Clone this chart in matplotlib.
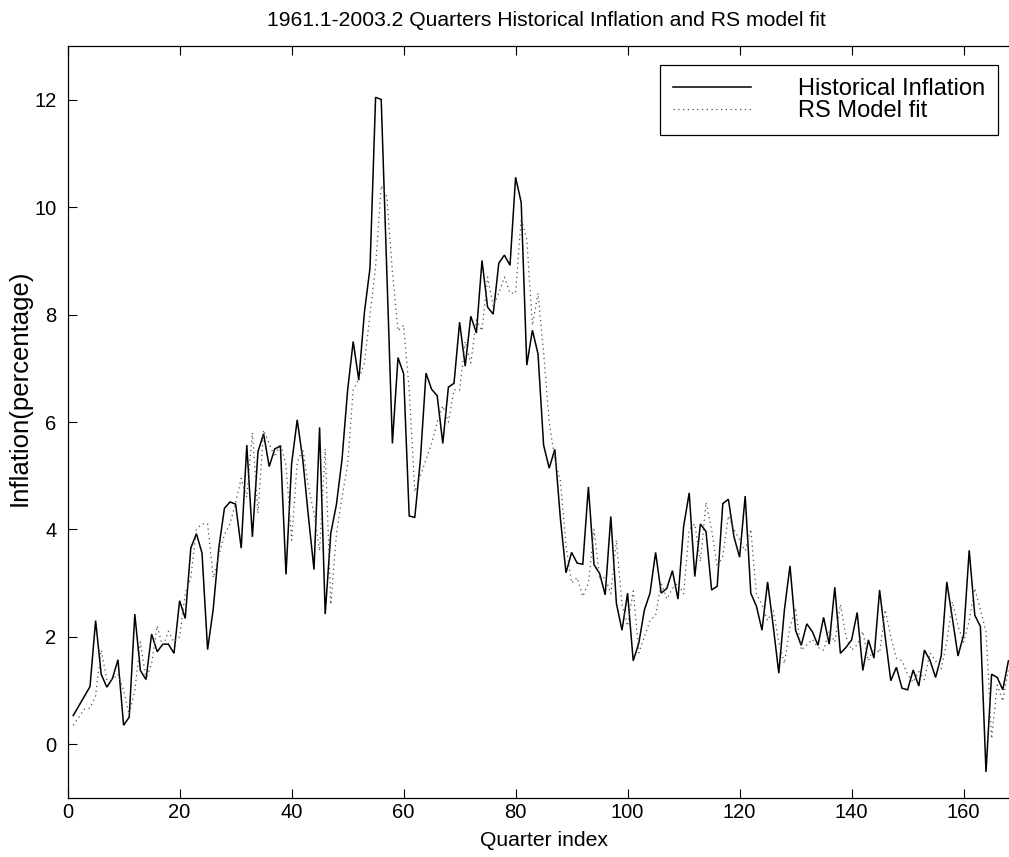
import numpy as np
import matplotlib
matplotlib.use("Agg")
import matplotlib.pyplot as plt
from matplotlib import font_manager

# ---------------- data ----------------
quarters = list(range(1, 169))

historical = [
    0.53, 0.71, 0.89, 1.07, 2.30, 1.30, 1.06, 1.22, 1.57, 0.35,
    0.50, 2.42, 1.37, 1.20, 2.05, 1.72, 1.86, 1.86, 1.69, 2.67,
    2.34, 3.65, 3.92, 3.56, 1.76, 2.51, 3.65, 4.39, 4.51, 4.47,
    3.65, 5.57, 3.86, 5.45, 5.78, 5.17, 5.50, 5.55, 3.16, 5.22,
    6.04, 5.30, 4.24, 3.25, 5.90, 2.42, 3.93, 4.46, 5.30, 6.59,
    7.50, 6.78, 8.04, 8.87, 12.05, 12.01, 8.80, 5.60, 7.20, 6.90,
    4.25, 4.22, 5.30, 6.91, 6.61, 6.49, 5.60, 6.65, 6.72, 7.86,
    7.04, 7.97, 7.66, 9.01, 8.14, 8.01, 8.96, 9.11, 8.92, 10.56,
    10.09, 7.06, 7.71, 7.27, 5.57, 5.14, 5.49, 4.20, 3.19, 3.57,
    3.37, 3.35, 4.79, 3.34, 3.18, 2.78, 4.24, 2.62, 2.12, 2.81,
    1.55, 1.88, 2.50, 2.81, 3.57, 2.81, 2.90, 3.23, 2.70, 4.05,
    4.68, 3.12, 4.10, 3.96, 2.87, 2.94, 4.48, 4.56, 3.86, 3.48,
    4.62, 2.81, 2.57, 2.12, 3.02, 2.20, 1.32, 2.50, 3.32, 2.12,
    1.84, 2.24, 2.09, 1.84, 2.36, 1.86, 2.92, 1.69, 1.80, 1.94,
    2.45, 1.37, 1.94, 1.60, 2.87, 2.00, 1.18, 1.43, 1.04, 1.01,
    1.38, 1.08, 1.75, 1.56, 1.24, 1.64, 3.02, 2.34, 1.64, 2.03,
    3.61, 2.40, 2.19, -0.52, 1.30, 1.24, 1.01, 1.55,
]

rs_fit = [
    0.35, 0.50, 0.65, 0.67, 0.90, 1.75, 1.20, 1.20, 1.30, 1.00,
    0.55, 1.00, 1.90, 1.20, 1.50, 2.20, 1.80, 2.10, 1.90, 2.00,
    2.80, 3.10, 4.00, 4.10, 4.10, 3.10, 3.50, 3.90, 4.10, 4.50,
    4.95, 4.60, 5.80, 4.30, 5.85, 5.60, 5.35, 5.60, 5.20, 3.80,
    5.25, 5.50, 4.80, 4.30, 3.60, 5.50, 2.60, 3.90, 4.60, 5.20,
    6.60, 6.80, 7.10, 8.00, 8.90, 10.40, 10.20, 8.80, 7.70, 7.80,
    6.60, 4.70, 5.00, 5.30, 5.60, 6.00, 6.30, 6.00, 6.60, 6.60,
    7.50, 7.10, 7.90, 7.70, 8.70, 8.15, 8.40, 8.70, 8.40, 8.40,
    9.80, 9.40, 7.80, 8.40, 7.30, 6.00, 5.30, 4.90, 3.70, 3.00,
    3.10, 2.75, 3.00, 4.00, 3.10, 3.10, 2.80, 3.80, 2.60, 2.20,
    2.85, 1.70, 2.00, 2.30, 2.40, 3.00, 2.70, 2.90, 3.00, 2.80,
    4.00, 4.10, 3.40, 4.50, 4.00, 3.30, 3.50, 4.25, 4.00, 3.80,
    3.60, 4.00, 2.80, 2.60, 2.30, 2.50, 1.90, 1.50, 2.20, 2.50,
    1.75, 1.85, 1.95, 1.80, 1.75, 2.10, 1.90, 2.60, 2.00, 1.75,
    1.85, 2.10, 1.55, 1.80, 1.70, 2.50, 2.00, 1.60, 1.55, 1.30,
    1.15, 1.35, 1.20, 1.70, 1.55, 1.40, 1.90, 2.65, 2.20, 1.90,
    2.30, 2.90, 2.50, 2.10, 0.10, 1.10, 0.80, 1.40,
]

x_ticks = [0, 20, 40, 60, 80, 100, 120, 140, 160]
y_ticks = [0, 2, 4, 6, 8, 10, 12]

title_text = "1961.1-2003.2 Quarters Historical Inflation and RS model fit"
x_label = "Quarter index"
y_label = "Inflation(percentage)"
series_labels = ["Historical Inflation", "RS Model fit"]

# ---------------- fonts ----------------
installed = {f.name for f in font_manager.fontManager.ttflist}
REG = ['Liberation Sans', 'DejaVu Sans']
if 'Liberation Sans Narrow' in installed:
    NAR = ['Liberation Sans Narrow', 'Liberation Sans', 'DejaVu Sans']
    k = 1.0 / 0.82
else:
    NAR = REG
    k = 1.0

plt.rcParams['font.family'] = REG

# ---------------- figure ----------------
W, H = 1009, 857
fig = plt.figure(figsize=(W / 100, H / 100), dpi=100)
fig.patch.set_facecolor('white')

# axes in pixel geometry (right edge beyond the image, as in the cropped reference)
left_px, right_px, top_px, bottom_px = 67.6, 1019.6, 46.3, 797.7
ax = fig.add_axes([left_px / W, 1 - bottom_px / H,
                   (right_px - left_px) / W, (bottom_px - top_px) / H])

ax.plot(quarters, historical, color='black', lw=1.1, solid_joinstyle='miter',
        label=series_labels[0])
ax.plot(quarters, rs_fit, color='0.3', lw=0.9, linestyle=(0, (1, 2.8)),
        label=series_labels[1])

ax.set_xlim(0, 170)
ax.set_ylim(-1, 13)
ax.set_xticks(x_ticks)
ax.set_yticks(y_ticks)
ax.tick_params(axis='both', direction='in', length=6.5, width=0.8,
               top=True, right=True, colors='black')
ax.tick_params(axis='x', pad=4)
ax.tick_params(axis='y', pad=8)
for lab in ax.get_xticklabels() + ax.get_yticklabels():
    lab.set_family(NAR)
    lab.set_fontsize(14.5 * k)
for s in ax.spines.values():
    s.set_linewidth(0.9)
    s.set_color('black')

fig.text(546 / W, 1 - 20 / H, title_text, ha='center', va='center',
         fontsize=15.2 * k, family=NAR)
fig.text(544 / W, 1 - 840 / H, x_label, ha='center', va='center',
         fontsize=15.2 * k, family=NAR)
fig.text(20 / W, 1 - 388 / H, y_label, ha='center', va='center', rotation=90,
         fontsize=18.5, family=REG)

leg = ax.legend(loc='upper right', bbox_to_anchor=(998 / W, 1 - 65 / H),
                bbox_transform=fig.transFigure, prop={'family': REG, 'size': 17},
                frameon=True, fancybox=False, edgecolor='black', framealpha=1,
                handlelength=3.3, handletextpad=2.0, labelspacing=0.0,
                borderpad=0.55, borderaxespad=0)
leg.get_frame().set_linewidth(0.9)

fig.savefig('out.png', dpi=100, facecolor='white')
